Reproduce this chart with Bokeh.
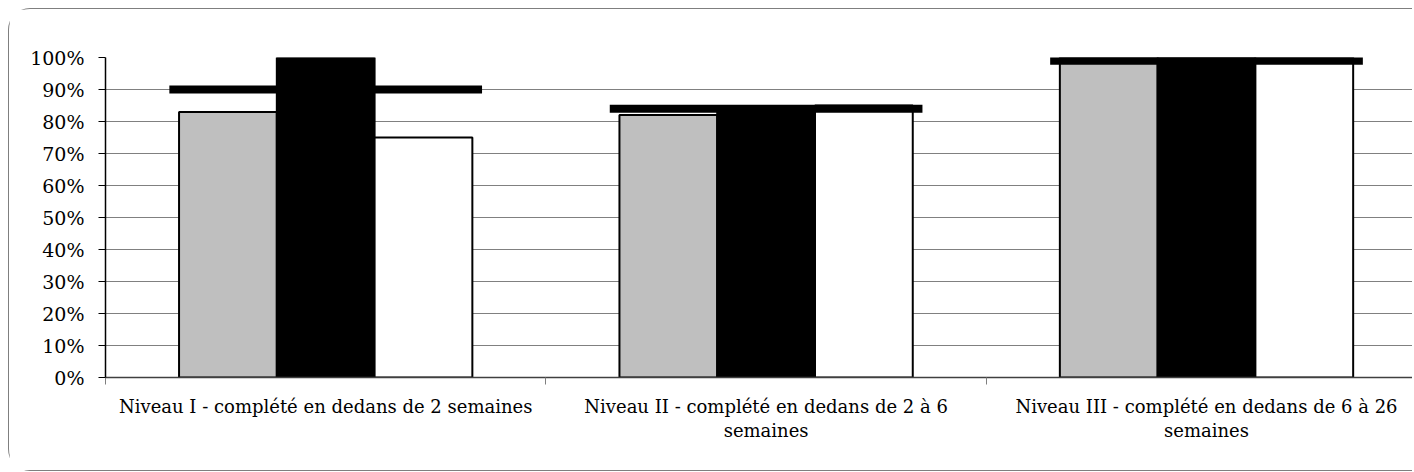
from bokeh.plotting import figure
from bokeh.models import Range1d, FixedTicker, NumeralTickFormatter
from bokeh.embed import file_html
from bokeh.resources import INLINE

# ---- data ----
categories = [
    "Niveau I - complété en dedans de 2 semaines",
    "Niveau II - complété en dedans de 2 à 6\nsemaines",
    "Niveau III - complété en dedans de 6 à 26\nsemaines",
]
gray_values = [0.83, 0.82, 1.00]
black_values = [1.00, 0.83, 1.00]
white_values = [0.75, 0.85, 1.00]
target_values = [0.90, 0.84, 0.99]
y_ticks = [0.0, 0.1, 0.2, 0.3, 0.4, 0.5, 0.6, 0.7, 0.8, 0.9, 1.0]

# ---- layout / style ----
FONT = "DejaVu Serif"
centers = [i + 0.5 for i in range(len(categories))]
bar_w = 0.222
target_half = 0.355

p = figure(width=1404, height=463, output_backend="svg", toolbar_location=None,
           x_range=Range1d(0, 2.97), y_range=Range1d(0, 1.0),
           min_border_left=96, min_border_top=48, min_border_bottom=95, min_border_right=0,
           styles={"margin-left": "8px", "margin-top": "8px",
                   "border-top": "1.5px solid #7f7f7f", "border-left": "1.5px solid #7f7f7f",
                   "border-bottom": "1.5px solid #7f7f7f",
                   "border-radius": "22px 0 0 22px"})
p.outline_line_color = None
p.background_fill_color = "white"
p.border_fill_color = "white"

series = [(gray_values, -bar_w, "#bfbfbf"), (black_values, 0.0, "black"), (white_values, bar_w, "white")]
for vals, off, col in series:
    p.vbar(x=[c + off for c in centers], top=vals, bottom=0, width=bar_w,
           fill_color=col, line_color="black", line_width=2)

p.segment(x0=[c - target_half for c in centers], x1=[c + target_half for c in centers],
          y0=target_values, y1=target_values, line_color="black", line_width=8, line_cap="butt")

# y axis
p.yaxis.ticker = FixedTicker(ticks=y_ticks)
p.yaxis.formatter = NumeralTickFormatter(format="0%")
p.yaxis.major_tick_out = 7
p.yaxis.major_tick_in = 0
p.yaxis.minor_tick_line_color = None
p.yaxis.axis_line_color = "black"
p.yaxis.axis_line_width = 1.5
p.yaxis.major_tick_line_color = "black"
p.yaxis.major_label_standoff = 14
p.yaxis.major_label_text_font = FONT
p.yaxis.major_label_text_font_size = "19px"
p.yaxis.major_label_text_color = "black"

# x axis
p.xaxis.ticker = FixedTicker(ticks=centers, minor_ticks=[0, 1, 2, 3])
p.xaxis.major_label_overrides = {c: lab for c, lab in zip(centers, categories)}
p.xaxis.major_tick_out = 0
p.xaxis.major_tick_in = 0
p.xaxis.minor_tick_out = 7
p.xaxis.minor_tick_in = 0
p.xaxis.minor_tick_line_color = "#7f7f7f"
p.xaxis.axis_line_color = "#404040"
p.xaxis.axis_line_width = 1.5
p.xaxis.major_label_standoff = 11
p.xaxis.major_label_text_font = FONT
p.xaxis.major_label_text_font_size = "18px"
p.xaxis.major_label_text_color = "black"
p.xaxis.major_label_text_line_height = 1.15

p.xgrid.grid_line_color = None
p.ygrid.ticker = FixedTicker(ticks=y_ticks)
p.ygrid.grid_line_color = "#808080"
p.ygrid.grid_line_width = 1

open("out.html", "w").write(file_html(p, INLINE))
